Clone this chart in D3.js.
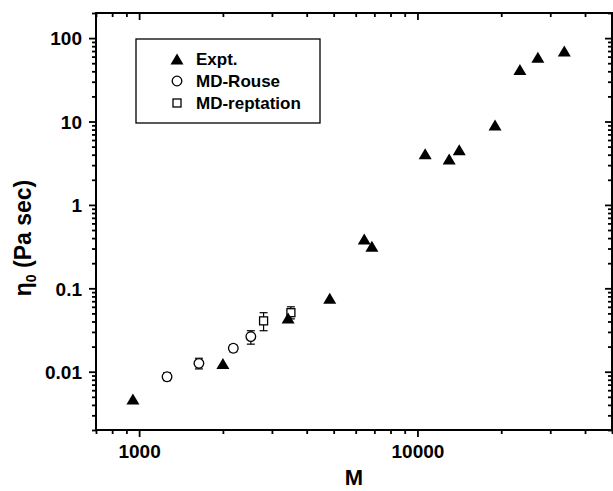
<!DOCTYPE html>
<html><head><meta charset="utf-8">
<script src="https://cdn.jsdelivr.net/npm/d3@7"></script>
<style>
html,body{margin:0;padding:0;background:#fff;}
svg text{font-family:"Liberation Sans",Arial,sans-serif;font-weight:bold;fill:#000;}
</style></head>
<body>
<svg id="c" width="613" height="491"></svg>
<script>
// ---- data ----
const exptM   = [950, 2000, 3430, 4840, 6440, 6860, 10660, 13000, 14130, 19000, 23340, 27080, 33700];
const exptEta = [0.0047, 0.0125, 0.044, 0.076, 0.39, 0.32, 4.1, 3.55, 4.6, 9.1, 42, 59, 70];

const rouseM   = [1260, 1640, 2180, 2520];
const rouseEta = [0.0087, 0.0126, 0.0191, 0.0264];
const rouseLo  = [0.0078, 0.0108, 0.0173, 0.0214];
const rouseHi  = [0.0097, 0.0145, 0.0210, 0.0310];

const reptM   = [2800, 3510];
const reptEta = [0.0407, 0.051];
const reptLo  = [0.031, 0.043];
const reptHi  = [0.051, 0.060];

const xTickValues = [1000, 10000];
const xTickLabels = ["1000", "10000"];
const yTickValues = [0.01, 0.1, 1, 10, 100];
const yTickLabels = ["0.01", "0.1", "1", "10", "100"];
const legendLabels = ["Expt.", "MD-Rouse", "MD-reptation"];

// ---- layout ----
const L = 96, R = 612, T = 13, B = 430;
const svg = d3.select("#c");
const x = d3.scaleLog().domain([700, 50000]).range([L, R]);
const y = d3.scaleLog().domain([0.002, 200]).range([B, T]);

function minors(dom) {
  const out = [];
  const lo = Math.floor(Math.log10(dom[0])), hi = Math.ceil(Math.log10(dom[1]));
  for (let e = lo; e <= hi; e++) for (let k = 1; k <= 9; k++) {
    const v = k * Math.pow(10, e);
    if (v >= dom[0] * 0.999 && v <= dom[1] * 1.001 && k !== 1) out.push(v);
  }
  return out;
}
const xMinor = minors(x.domain()), yMinor = minors(y.domain());
const MAJ = 7, MIN = 4;

function styleAxis(g) {
  g.select(".domain").remove();
  g.selectAll(".tick line").attr("stroke", "#000").attr("stroke-width", 1.8);
}
// bottom
svg.append("g").attr("transform", `translate(0,${B})`)
  .call(d3.axisBottom(x).tickValues(xMinor).tickSize(MIN).tickFormat("")).call(styleAxis);
const xb = svg.append("g").attr("transform", `translate(0,${B})`)
  .call(d3.axisBottom(x).tickValues(xTickValues).tickSize(MAJ).tickPadding(8)
    .tickFormat((d, i) => xTickLabels[i])).call(styleAxis);
xb.selectAll("text").attr("font-size", 19).attr("dy", "0.71em").attr("y", 15);
// top (inward)
svg.append("g").attr("transform", `translate(0,${T})`)
  .call(d3.axisTop(x).tickValues(xMinor).tickSize(-MIN).tickFormat("")).call(styleAxis);
svg.append("g").attr("transform", `translate(0,${T})`)
  .call(d3.axisTop(x).tickValues(xTickValues).tickSize(-MAJ).tickFormat("")).call(styleAxis);
// left
svg.append("g").attr("transform", `translate(${L},0)`)
  .call(d3.axisLeft(y).tickValues(yMinor).tickSize(MIN).tickFormat("")).call(styleAxis);
const yl = svg.append("g").attr("transform", `translate(${L},0)`)
  .call(d3.axisLeft(y).tickValues(yTickValues).tickSize(MAJ)
    .tickFormat((d, i) => yTickLabels[i])).call(styleAxis);
yl.selectAll("text").attr("font-size", 19).attr("x", -14).attr("dy", "0.36em");
// right (inward)
svg.append("g").attr("transform", `translate(${R},0)`)
  .call(d3.axisRight(y).tickValues(yMinor).tickSize(-MIN).tickFormat("")).call(styleAxis);
svg.append("g").attr("transform", `translate(${R},0)`)
  .call(d3.axisRight(y).tickValues(yTickValues).tickSize(-MAJ).tickFormat("")).call(styleAxis);

// frame
svg.append("rect").attr("x", L).attr("y", T).attr("width", R - L).attr("height", B - T)
  .attr("fill", "none").attr("stroke", "#000").attr("stroke-width", 2);

// titles
svg.append("text").attr("x", (L + R) / 2).attr("y", 485).attr("text-anchor", "middle")
  .attr("font-size", 22).text("M");
const yt = svg.append("text").attr("transform", "translate(31,238) rotate(-90)")
  .attr("text-anchor", "middle").attr("font-size", 23);
yt.append("tspan").text("η");
yt.append("tspan").attr("font-size", 14).attr("dy", 5).text("0");
yt.append("tspan").attr("dy", -5).text(" (Pa sec)");

// markers
const TW = 13, TH = 11;
const triPath = `M0,${-TH/2}L${TW/2},${TH/2}L${-TW/2},${TH/2}Z`;
const S = 8, CR = 4.8, CAP = 4;

function errBars(Ms, lo, hi) {
  const g = svg.append("g").attr("stroke", "#000").attr("stroke-width", 1.2).attr("fill", "none");
  Ms.forEach((m, i) => {
    const cx = x(m), y1 = y(lo[i]), y2 = y(hi[i]);
    g.append("line").attr("x1", cx).attr("x2", cx).attr("y1", y1).attr("y2", y2);
    g.append("line").attr("x1", cx - CAP).attr("x2", cx + CAP).attr("y1", y1).attr("y2", y1);
    g.append("line").attr("x1", cx - CAP).attr("x2", cx + CAP).attr("y1", y2).attr("y2", y2);
  });
}
errBars(rouseM, rouseLo, rouseHi);
errBars(reptM, reptLo, reptHi);

svg.append("g").selectAll("circle").data(rouseM).join("circle")
  .attr("cx", d => x(d)).attr("cy", (d, i) => y(rouseEta[i])).attr("r", CR)
  .attr("fill", "#fff").attr("stroke", "#000").attr("stroke-width", 1.3);
svg.append("g").selectAll("rect").data(reptM).join("rect")
  .attr("x", d => x(d) - S / 2).attr("y", (d, i) => y(reptEta[i]) - S / 2)
  .attr("width", S).attr("height", S)
  .attr("fill", "#fff").attr("stroke", "#000").attr("stroke-width", 1.3);
svg.append("g").selectAll("path").data(exptM).join("path")
  .attr("transform", (d, i) => `translate(${x(d)},${y(exptEta[i])})`)
  .attr("d", triPath).attr("fill", "#000");

// legend
const lg = svg.append("g");
lg.append("rect").attr("x", 136).attr("y", 39).attr("width", 184).attr("height", 84)
  .attr("fill", "#fff").attr("stroke", "#000").attr("stroke-width", 1.3);
const rowY = [59, 81, 103];
lg.append("path").attr("transform", `translate(177,${rowY[0]})`).attr("d", triPath).attr("fill", "#000");
lg.append("circle").attr("cx", 177).attr("cy", rowY[1]).attr("r", CR)
  .attr("fill", "#fff").attr("stroke", "#000").attr("stroke-width", 1.3);
lg.append("rect").attr("x", 177 - S / 2).attr("y", rowY[2] - S / 2).attr("width", S).attr("height", S)
  .attr("fill", "#fff").attr("stroke", "#000").attr("stroke-width", 1.3);
legendLabels.forEach((t, i) => {
  lg.append("text").attr("x", 196).attr("y", rowY[i]).attr("dy", "0.36em")
    .attr("font-size", 17).text(t);
});
</script>
</body></html>
